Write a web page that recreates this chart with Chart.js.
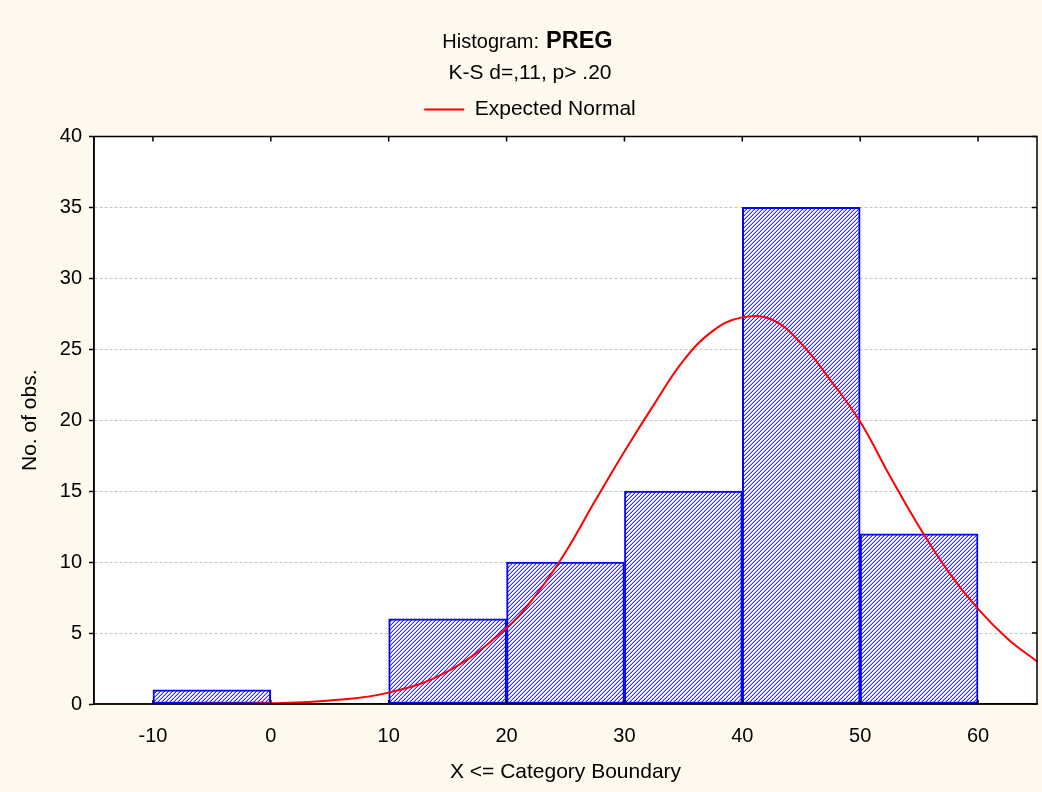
<!DOCTYPE html>
<html>
<head>
<meta charset="utf-8">
<script src="https://cdn.jsdelivr.net/npm/chart.js@4/dist/chart.umd.min.js"></script>
<style>
  html, body { margin:0; padding:0; background:#fdf9ee; }
  #wrap { position:relative; width:1042px; height:792px; background:#fdf9ee; }
  #ttl { position:absolute; left:15px; top:28px; width:1025px; text-align:center;
         font-family:"Liberation Sans", Arial, sans-serif; font-size:20px; line-height:24px; color:#000; }
  #ttl b { font-size:23.5px; margin-left:7px; }
  canvas { position:absolute; left:0; top:0; }
</style>
</head>
<body>
<div id="wrap">
  <canvas id="c" width="1042" height="792"></canvas>
  <div id="ttl">Histogram:<b>PREG</b></div>
</div>
<script>
// ---- data ----
const binStart = [-10, 0, 10, 20, 30, 40, 50];
const binEnd   = [0, 10, 20, 30, 40, 50, 60];
const counts   = [1, 0, 6, 10, 15, 35, 12];
const xTicks   = [-10, 0, 10, 20, 30, 40, 50, 60];
const normalX  = [-15, -10, -5, 0, 5, 10, 15, 20, 22.5, 25, 27.5, 30, 32.5, 35, 37.5, 40, 42.5, 45, 47.5, 50, 52.5, 55, 57.5, 60, 62.5, 65];
const normalY  = [0, 0.003, 0.01, 0.05, 0.24, 0.8, 2.3, 5.35, 7.7, 10.7, 14.3, 17.8, 21.1, 24.2, 26.3, 27.25, 27.1, 25.4, 22.8, 19.9, 16.1, 12.5, 9.3, 6.7, 4.6, 3.0];
const subtitleText = "K-S d=,11, p> .20";
const legendLabel  = "Expected Normal";
const xTitle = "X <= Category Boundary";
const yTitle = "No. of obs.";

const FONT = "'Liberation Sans', Arial, sans-serif";

function hatchPattern() {
  const n = 4;
  const c = document.createElement('canvas');
  c.width = n; c.height = n;
  const g = c.getContext('2d');
  g.fillStyle = '#ffffff'; g.fillRect(0, 0, n, n);
  for (let i = 0; i < n; i++) {
    g.fillStyle = '#2a2aff';
    g.fillRect(n - 1 - i, i, 1, 1);
    g.fillStyle = '#b4b4ff';
    g.fillRect((2 * n - 2 - i) % n, i, 1, 1);
  }
  return g.createPattern(c, 'repeat');
}

const barData = binStart.map((s, i) => ({ x: (s + binEnd[i]) / 2, y: counts[i] }));
const lineData = normalX.map((x, i) => ({ x: x, y: normalY[i] }));

// empty layout box that keeps a gap between the legend and the plot
const spacerPlugin = {
  id: 'spacer',
  beforeInit(chart) {
    const box = {
      position: 'top', weight: 10, fullSize: true, options: {},
      left: 0, top: 0, right: 0, bottom: 0, width: 0, height: 0,
      isHorizontal() { return true; },
      update(maxWidth) { this.width = maxWidth; this.height = 6.5; return this; },
      getPadding() { return { top: 0, left: 0, right: 0, bottom: 0 }; },
      draw() {}
    };
    Chart.layouts.addBox(chart, box);
  }
};

const framePlugin = {
  id: 'frame',
  beforeDraw(chart) {
    const { ctx, chartArea: a } = chart;
    ctx.save();
    ctx.fillStyle = '#fdf9ee';
    ctx.fillRect(0, 0, chart.width, chart.height);
    ctx.fillStyle = '#ffffff';
    ctx.fillRect(a.left, a.top, a.right - a.left, a.bottom - a.top);
    ctx.restore();
  },
  afterDraw(chart) {
    const { ctx, chartArea: a, scales } = chart;
    ctx.save();
    ctx.strokeStyle = '#000';
    ctx.lineWidth = 1.5;
    ctx.strokeRect(a.left, a.top, a.right - a.left, a.bottom - a.top);
    ctx.beginPath();
    scales.x.ticks.forEach(t => {
      const px = scales.x.getPixelForValue(t.value);
      ctx.moveTo(px, a.top); ctx.lineTo(px, a.top + 5);
      ctx.moveTo(px, a.bottom); ctx.lineTo(px, a.bottom - 4);
    });
    scales.y.ticks.forEach(t => {
      const py = scales.y.getPixelForValue(t.value);
      ctx.moveTo(a.right, py); ctx.lineTo(a.right - 5, py);
    });
    ctx.stroke();
    ctx.restore();
  }
};

new Chart(document.getElementById('c'), {
  type: 'bar',
  data: {
    datasets: [
      {
        type: 'bar',
        label: 'Histogram',
        data: barData,
        backgroundColor: hatchPattern(),
        borderColor: '#0000ff',
        borderWidth: 2,
        borderSkipped: false,
        barPercentage: 1,
        categoryPercentage: 1,
        order: 2
      },
      {
        type: 'line',
        label: legendLabel,
        data: lineData,
        borderColor: '#ff0000',
        backgroundColor: '#ff0000',
        borderWidth: 2,
        pointRadius: 0,
        pointStyle: 'line',
        tension: 0.4,
        fill: false,
        order: 1
      }
    ]
  },
  options: {
    responsive: false,
    animation: false,
    devicePixelRatio: 1,
    layout: { padding: { top: 67, right: 5, bottom: 0, left: 23 } },
    plugins: {
      title: { display: false },
      subtitle: {
        display: true,
        text: subtitleText,
        color: '#000',
        font: { family: FONT, size: 21, weight: 'normal', lineHeight: '12px' },
        padding: { top: 0, bottom: 0 }
      },
      legend: {
        display: true,
        position: 'top',
        labels: {
          color: '#000',
          font: { family: FONT, size: 21 },
          usePointStyle: true,
          pointStyleWidth: 40,
          padding: 20,
          filter: (item) => item.datasetIndex === 1
        }
      },
      tooltip: { enabled: false }
    },
    scales: {
      x: {
        type: 'linear',
        min: -15,
        max: 65,
        offset: false,
        afterBuildTicks: (s) => { s.ticks = xTicks.map(v => ({ value: v })); },
        afterFit: (s) => { s.height = 88; },
        grid: { display: true, drawOnChartArea: false, drawTicks: false, offset: false },
        border: { display: true, color: '#000', width: 1.5 },
        ticks: { color: '#000', font: { family: FONT, size: 20 }, padding: 20, maxRotation: 0 },
        title: {
          display: true, text: xTitle, color: '#000',
          font: { family: FONT, size: 21 }, padding: { top: 0, bottom: 7 }
        }
      },
      y: {
        min: 0,
        max: 40,
        afterFit: (s) => { s.width = 71; },
        ticks: { stepSize: 5, color: '#000', font: { family: FONT, size: 20 }, padding: 7 },
        grid: {
          color: '#c4c4c4',
          lineWidth: 1,
          drawTicks: true,
          tickLength: 5,
          tickColor: '#000',
          tickWidth: 1.5,
          tickBorderDash: []
        },
        border: { display: true, color: '#000', width: 1.5, dash: [3, 2] },
        title: {
          display: true, text: yTitle, color: '#000',
          font: { family: FONT, size: 21, lineHeight: '10px' }, padding: { top: 2, bottom: 0 }
        }
      }
    }
  },
  plugins: [spacerPlugin, framePlugin]
});
</script>
</body>
</html>
